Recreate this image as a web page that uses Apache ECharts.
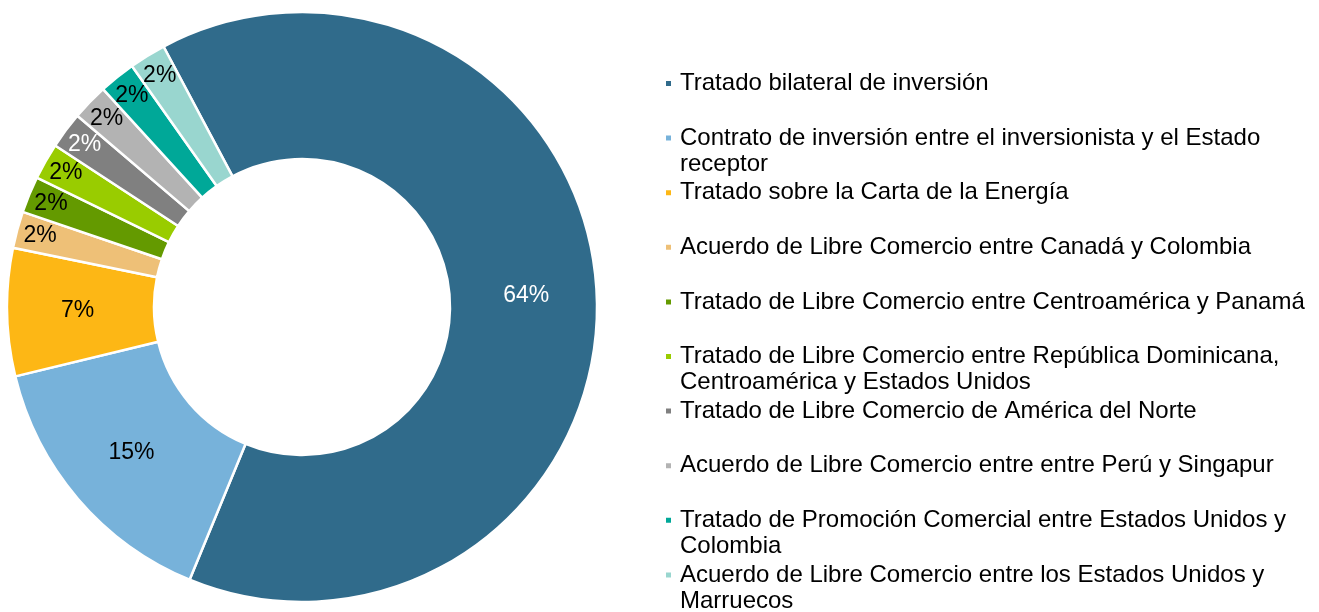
<!DOCTYPE html>
<html>
<head>
<meta charset="utf-8">
<script src="https://cdn.jsdelivr.net/npm/echarts@6/dist/echarts.min.js"></script>
<style>
  html, body { margin: 0; padding: 0; background: #fff; }
  #chart { width: 1319px; height: 612px; }
</style>
</head>
<body>
<div id="chart"></div>
<script>
// categorias (el salto de linea es como aparece en la leyenda)
const names = [
  "Tratado bilateral de inversión",
  "Contrato de inversión entre el inversionista y el Estado\nreceptor",
  "Tratado sobre la Carta de la Energía",
  "Acuerdo de Libre Comercio entre Canadá y Colombia",
  "Tratado de Libre Comercio entre Centroamérica y Panamá",
  "Tratado de Libre Comercio entre República Dominicana,\nCentroamérica y Estados Unidos",
  "Tratado de Libre Comercio de América del Norte",
  "Acuerdo de Libre Comercio entre entre Perú y Singapur",
  "Tratado de Promoción Comercial entre Estados Unidos y\nColombia",
  "Acuerdo de Libre Comercio entre los Estados Unidos y\nMarruecos"
];
const values = [64, 15, 7, 2, 2, 2, 2, 2, 2, 2];

const colors = ["#306b8b", "#77b2da", "#fdb715", "#eec077", "#649a00",
                "#99cc00", "#808080", "#b3b3b3", "#00a898", "#99d6cf"];
const labelColors = ["#fff", "#000", "#000", "#000", "#000",
                     "#000", "#fff", "#000", "#000", "#000"];

const font = "'Liberation Sans', Arial, sans-serif";
let chart = echarts.init(document.getElementById("chart"));

// slices grandes: etiqueta en el centro del anillo; las de 2% van cerca del borde
const mainData = names.map((n, i) => ({
  name: n,
  value: values[i],
  itemStyle: { color: colors[i] },
  label: { show: values[i] >= 5, color: labelColors[i] }
}));
const outerData = names.map((n, i) => ({
  name: n,
  value: values[i],
  itemStyle: { color: "rgba(0,0,0,0)" },
  label: { show: values[i] < 5, color: labelColors[i] }
}));

// una leyenda por elemento para mantener el espaciado fijo
// (linea vacia delante para que el icono quede en la primera linea)
const legends = names.map((n, i) => {
  const wrapped = n.indexOf("\n") >= 0;
  return {
    data: [n],
    orient: "vertical",
    left: 664,
    top: 83.5 + i * 54.6 - (wrapped ? 39 : 13),
    padding: 0,
    icon: "rect",
    itemWidth: 7,
    itemHeight: 7,
    selectedMode: false,
    formatter: name => (name.indexOf("\n") >= 0 ? "\n" + name : name),
    textStyle: {
      fontFamily: font,
      fontSize: 24,
      color: "#000",
      lineHeight: 26,
      padding: [0, 0, 0, 3]
    }
  };
});

chart.setOption({
  animation: false,
  legend: legends,
  series: [
    {
      type: "pie",
      center: [302, 307],
      radius: [148, 295],
      startAngle: 118,
      clockwise: true,
      avoidLabelOverlap: false,
      itemStyle: { borderColor: "#fff", borderWidth: 2.5 },
      label: {
        position: "inside",
        formatter: "{c}%",
        fontFamily: font,
        fontSize: 23
      },
      labelLine: { show: false },
      labelLayout: { hideOverlap: false },
      emphasis: { disabled: true },
      data: mainData
    },
    {
      type: "pie",
      center: [302, 307],
      radius: [245, 292],
      startAngle: 118,
      clockwise: true,
      silent: true,
      avoidLabelOverlap: false,
      label: {
        position: "inside",
        formatter: "{c}%",
        fontFamily: font,
        fontSize: 23
      },
      labelLine: { show: false },
      labelLayout: { hideOverlap: false },
      emphasis: { disabled: true },
      data: outerData
    }
  ]
});
</script>
</body>
</html>
